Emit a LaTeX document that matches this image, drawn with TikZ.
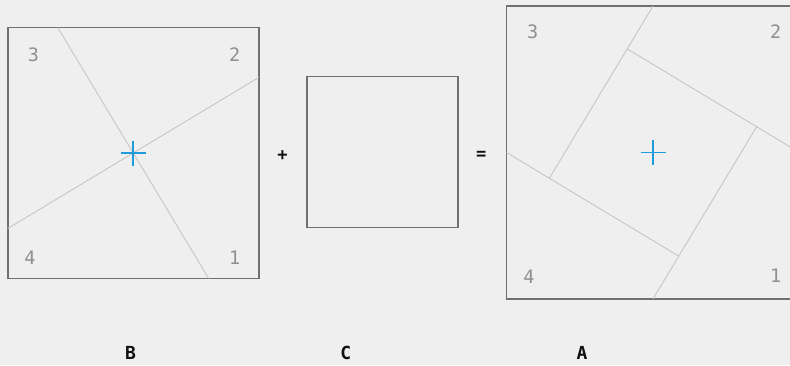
\documentclass[tikz,border=0pt]{standalone}
\usepackage{fontspec}
\setmonofont{DejaVu Sans Mono}
\usetikzlibrary{calc}
\definecolor{paper}{HTML}{EFEFEF}
\definecolor{frame}{HTML}{707070}
\definecolor{cutc}{HTML}{C6C6C6}
\definecolor{numc}{HTML}{909090}
\definecolor{markc}{HTML}{1E9BDB}
\definecolor{ink}{HTML}{111111}
\def\tilt{31.04}
\def\half{146.45}
\def\diag{106.77}

\begin{document}
\begin{tikzpicture}[
  x=1pt, y=-1pt,
  sq/.style={draw=frame, line width=1.8pt},
  cutl/.style={draw=cutc, line width=0.9pt},
  cross/.style={draw=markc, line width=1.7pt},
  num/.style={font=\ttfamily\fontsize{18.5}{18.5}\selectfont, text=numc, inner sep=0pt},
  lab/.style={font=\ttfamily\bfseries\fontsize{18}{18}\selectfont, text=ink, inner sep=0pt},
  op/.style={font=\ttfamily\bfseries\fontsize{17}{17}\selectfont, text=ink, inner sep=0pt}
]
\useasboundingbox (0,0) rectangle (790,365);
\fill[paper] (0,0) rectangle (790,365);
\clip (0,0) rectangle (790,365);
% ---------------- square B
\coordinate (cB) at (133.2,153);
\draw[sq] ($(cB)+(-125.5,-125.5)$) rectangle ($(cB)+(125.5,125.5)$);
\draw[cutl] ($(cB)+(90-\tilt:\half)$) -- ($(cB)+(270-\tilt:\half)$);
\draw[cutl] ($(cB)+(-\tilt:\half)$) -- ($(cB)+(180-\tilt:\half)$);
\draw[cross] ($(cB)+(-12.5,0)$) -- ($(cB)+(12.5,0)$);
\draw[cross] ($(cB)+(0,-12.5)$) -- ($(cB)+(0,12.5)$);
\node[num] (b3) at (33.5,55) {3};
\node[num] (b2) at (234.7,55) {2};
\node[num] (b4) at (30,257.3) {4};
\node[num] (b1) at (234.7,257.3) {1};
% ---------------- square C
\coordinate (cC) at (382.5,152);
\draw[sq] ($(cC)+(-75.5,-75.5)$) rectangle ($(cC)+(75.5,75.5)$);
\node[op] (plus) at (282.5,155.5) {+};
\node[op] (eq) at (481.3,155.6) {=};
% ---------------- square A
\coordinate (cA) at (653,152.5);
\coordinate (p1) at ($(cA)+(\tilt+225:\diag)$);
\coordinate (p2) at ($(cA)+(\tilt-45:\diag)$);
\coordinate (p3) at ($(cA)+(\tilt+45:\diag)$);
\coordinate (p4) at ($(cA)+(\tilt+135:\diag)$);
\draw[sq] ($(cA)+(-\half,-\half)$) rectangle ($(cA)+(\half,\half)$);
\draw[cutl] ($(cA)+(0,-\half)$) -- (p4);
\draw[cutl] ($(cA)+(\half,0)$) -- (p1);
\draw[cutl] ($(cA)+(0,\half)$) -- (p2);
\draw[cutl] ($(cA)+(-\half,0)$) -- (p3);
\draw[cross] ($(cA)+(-12.5,0)$) -- ($(cA)+(12.5,0)$);
\draw[cross] ($(cA)+(0,-12.5)$) -- ($(cA)+(0,12.5)$);
\node[num] (a3) at (532.7,32) {3};
\node[num] (a2) at (775.7,32) {2};
\node[num] (a4) at (529,276.3) {4};
\node[num] (a1) at (775.7,275.5) {1};
% ---------------- names
\node[lab] (nB) at (130.5,352.7) {B};
\node[lab] (nC) at (345.8,352.7) {C};
\node[lab] (nA) at (582,352.7) {A};
\end{tikzpicture}
\end{document}
